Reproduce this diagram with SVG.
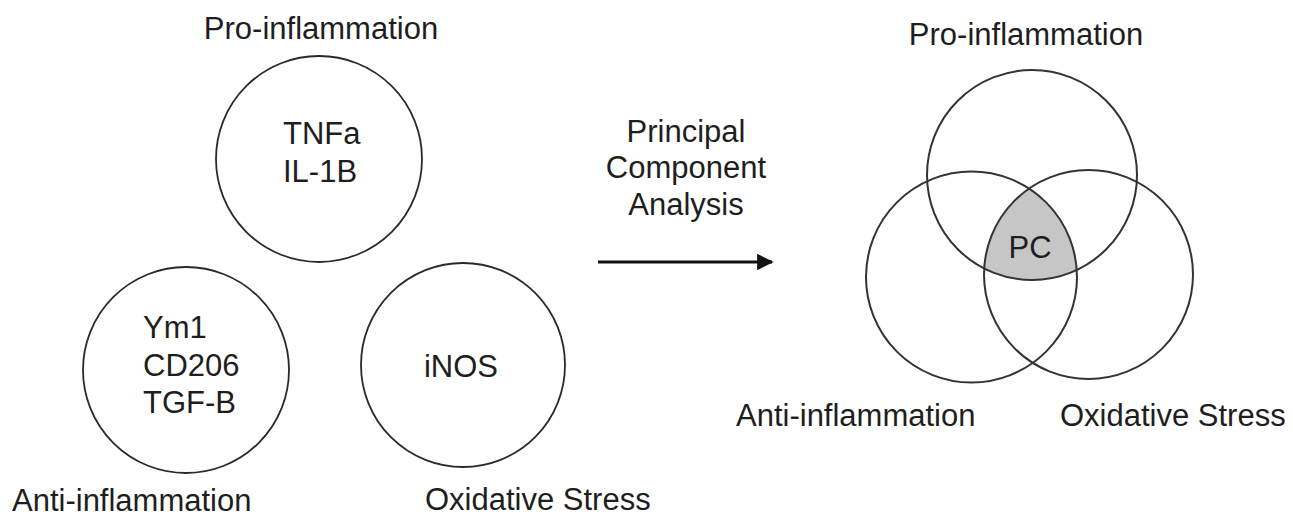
<svg xmlns="http://www.w3.org/2000/svg" width="1293" height="516" viewBox="0 0 1293 516">
<style>
text{font-family:"Liberation Sans",Arial,sans-serif;font-size:31px;fill:#1e1e1e}
.c{fill:none;stroke:#2a2a2a;stroke-width:1.8}
.v{fill:none;stroke:#333;stroke-width:2}
.m{text-anchor:middle}
</style>
<defs>
<marker id="ah" viewBox="0 0 10 10" refX="9" refY="5" markerWidth="5.5" markerHeight="5.5" orient="auto" markerUnits="strokeWidth">
<path d="M0,0 L10,5 L0,10 z" fill="#111"/>
</marker>
<clipPath id="cl"><circle cx="971.5" cy="277" r="105.5"/></clipPath>
<clipPath id="cr"><circle cx="1088.5" cy="274.5" r="104.5"/></clipPath>
</defs>
<rect width="1293" height="516" fill="#fff"/>
<g id="pro">
<text x="321" y="39" class="m">Pro-inflammation</text>
<circle class="c" cx="319" cy="159" r="103"/>
<text x="283" y="144">TNFa</text>
<text x="283" y="182">IL-1B</text>
</g>
<g id="anti">
<circle class="c" cx="186" cy="370" r="103"/>
<text x="143" y="338">Ym1</text>
<text x="143" y="375.5">CD206</text>
<text x="143" y="413">TGF-B</text>
<text x="12" y="511">Anti-inflammation</text>
</g>
<g id="oxid">
<circle class="c" cx="463" cy="365" r="102"/>
<text x="461" y="377" class="m">iNOS</text>
<text x="425" y="510">Oxidative Stress</text>
</g>
<g id="pca">
<text x="686" y="142" class="m">Principal</text>
<text x="686" y="178" class="m">Component</text>
<text x="686" y="215" class="m">Analysis</text>
</g>
<g id="connectors">
<line x1="598" y1="262" x2="772" y2="262" stroke="#111" stroke-width="3" marker-end="url(#ah)"/>
</g>
<g id="venn">
<g clip-path="url(#cl)"><circle cx="1032" cy="175" r="105" fill="#c6c6c6" clip-path="url(#cr)"/></g>
<circle class="v" cx="1032" cy="175" r="105"/>
<circle class="v" cx="971.5" cy="277" r="105.5"/>
<circle class="v" cx="1088.5" cy="274.5" r="104.5"/>
<text x="1030" y="258" class="m">PC</text>
<text x="1026" y="45" class="m">Pro-inflammation</text>
<text x="736" y="426">Anti-inflammation</text>
<text x="1060" y="426">Oxidative Stress</text>
</g>
</svg>
